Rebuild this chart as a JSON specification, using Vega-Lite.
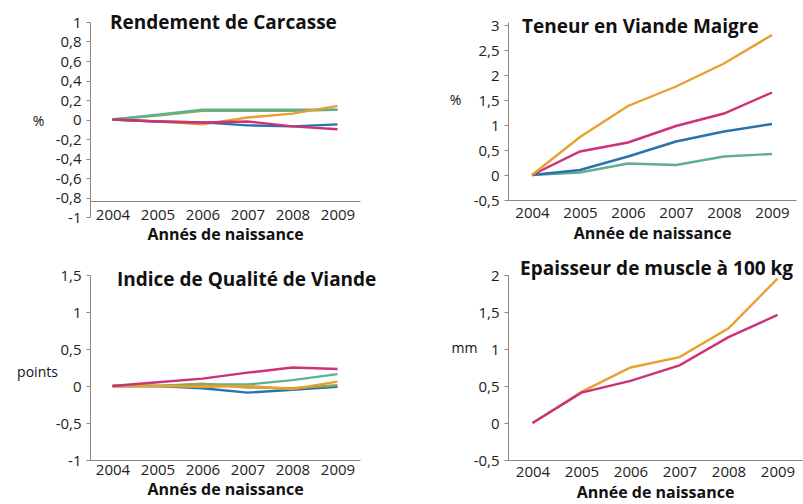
{
  "$schema": "https://vega.github.io/schema/vega-lite/v6.json",
  "autosize": {"type": "none"},
  "padding": {"left": 90, "top": 22, "right": 713, "bottom": 482},
  "background": "white",
  "bounds": "flush",
  "columns": 2,
  "spacing": {"row": 58, "column": 148},
  "config": {
    "locale": {"number": {"decimal": ",", "thousands": " ", "grouping": [3], "currency": ["", " €"], "minus": "-"}},
    "view": {"stroke": null},
    "font": "Open Sans",
    "axis": {"grid": false, "domainColor": "#888", "tickColor": "#888", "labelColor": "#222", "labelFont": "Open Sans", "labelFontSize": 15, "titleFont": "Open Sans", "titleColor": "#111", "tickSize": 4},
    "title": {"font": "Open Sans", "fontSize": 19, "fontWeight": "bold", "color": "#111"},
    "line": {"strokeWidth": 2.4}
  },
  "datasets": {
    "carcasse": [
      {"series": "green", "year": 2004, "value": 0}, {"series": "green", "year": 2005, "value": 0.04}, {"series": "green", "year": 2006, "value": 0.09}, {"series": "green", "year": 2007, "value": 0.09}, {"series": "green", "year": 2008, "value": 0.09}, {"series": "green", "year": 2009, "value": 0.1},
      {"series": "teal", "year": 2004, "value": 0}, {"series": "teal", "year": 2005, "value": 0.05}, {"series": "teal", "year": 2006, "value": 0.1}, {"series": "teal", "year": 2007, "value": 0.1}, {"series": "teal", "year": 2008, "value": 0.1}, {"series": "teal", "year": 2009, "value": 0.1},
      {"series": "orange", "year": 2004, "value": 0}, {"series": "orange", "year": 2005, "value": -0.02}, {"series": "orange", "year": 2006, "value": -0.05}, {"series": "orange", "year": 2007, "value": 0.02}, {"series": "orange", "year": 2008, "value": 0.06}, {"series": "orange", "year": 2009, "value": 0.14},
      {"series": "blue", "year": 2004, "value": 0}, {"series": "blue", "year": 2005, "value": -0.02}, {"series": "blue", "year": 2006, "value": -0.03}, {"series": "blue", "year": 2007, "value": -0.06}, {"series": "blue", "year": 2008, "value": -0.07}, {"series": "blue", "year": 2009, "value": -0.05},
      {"series": "magenta", "year": 2004, "value": 0}, {"series": "magenta", "year": 2005, "value": -0.02}, {"series": "magenta", "year": 2006, "value": -0.03}, {"series": "magenta", "year": 2007, "value": -0.02}, {"series": "magenta", "year": 2008, "value": -0.07}, {"series": "magenta", "year": 2009, "value": -0.1}
    ],
    "qualite": [
      {"series": "teal", "year": 2004, "value": 0}, {"series": "teal", "year": 2005, "value": 0}, {"series": "teal", "year": 2006, "value": 0.02}, {"series": "teal", "year": 2007, "value": 0.02}, {"series": "teal", "year": 2008, "value": 0.08}, {"series": "teal", "year": 2009, "value": 0.16},
      {"series": "blue", "year": 2004, "value": 0}, {"series": "blue", "year": 2005, "value": 0}, {"series": "blue", "year": 2006, "value": -0.03}, {"series": "blue", "year": 2007, "value": -0.09}, {"series": "blue", "year": 2008, "value": -0.05}, {"series": "blue", "year": 2009, "value": -0.01},
      {"series": "green", "year": 2004, "value": 0}, {"series": "green", "year": 2005, "value": 0}, {"series": "green", "year": 2006, "value": 0.03}, {"series": "green", "year": 2007, "value": -0.02}, {"series": "green", "year": 2008, "value": -0.03}, {"series": "green", "year": 2009, "value": 0.01},
      {"series": "orange", "year": 2004, "value": 0}, {"series": "orange", "year": 2005, "value": 0}, {"series": "orange", "year": 2006, "value": -0.01}, {"series": "orange", "year": 2007, "value": 0}, {"series": "orange", "year": 2008, "value": -0.04}, {"series": "orange", "year": 2009, "value": 0.06},
      {"series": "magenta", "year": 2004, "value": 0}, {"series": "magenta", "year": 2005, "value": 0.05}, {"series": "magenta", "year": 2006, "value": 0.1}, {"series": "magenta", "year": 2007, "value": 0.18}, {"series": "magenta", "year": 2008, "value": 0.25}, {"series": "magenta", "year": 2009, "value": 0.23}
    ],
    "maigre": [
      {"series": "teal", "year": 2004, "value": 0}, {"series": "teal", "year": 2005, "value": 0.05}, {"series": "teal", "year": 2006, "value": 0.23}, {"series": "teal", "year": 2007, "value": 0.2}, {"series": "teal", "year": 2008, "value": 0.37}, {"series": "teal", "year": 2009, "value": 0.42},
      {"series": "blue", "year": 2004, "value": 0}, {"series": "blue", "year": 2005, "value": 0.1}, {"series": "blue", "year": 2006, "value": 0.37}, {"series": "blue", "year": 2007, "value": 0.67}, {"series": "blue", "year": 2008, "value": 0.87}, {"series": "blue", "year": 2009, "value": 1.02},
      {"series": "magenta", "year": 2004, "value": 0}, {"series": "magenta", "year": 2005, "value": 0.47}, {"series": "magenta", "year": 2006, "value": 0.65}, {"series": "magenta", "year": 2007, "value": 0.98}, {"series": "magenta", "year": 2008, "value": 1.23}, {"series": "magenta", "year": 2009, "value": 1.65},
      {"series": "orange", "year": 2004, "value": 0}, {"series": "orange", "year": 2005, "value": 0.76}, {"series": "orange", "year": 2006, "value": 1.38}, {"series": "orange", "year": 2007, "value": 1.77}, {"series": "orange", "year": 2008, "value": 2.23}, {"series": "orange", "year": 2009, "value": 2.8}
    ],
    "muscle": [
      {"series": "orange", "year": 2004, "value": 0}, {"series": "orange", "year": 2005, "value": 0.42}, {"series": "orange", "year": 2006, "value": 0.75}, {"series": "orange", "year": 2007, "value": 0.89}, {"series": "orange", "year": 2008, "value": 1.28}, {"series": "orange", "year": 2009, "value": 1.95},
      {"series": "magenta", "year": 2004, "value": 0}, {"series": "magenta", "year": 2005, "value": 0.41}, {"series": "magenta", "year": 2006, "value": 0.57}, {"series": "magenta", "year": 2007, "value": 0.78}, {"series": "magenta", "year": 2008, "value": 1.16}, {"series": "magenta", "year": 2009, "value": 1.46}
    ]
  },
  "concat": [
    {
      "data": {"name": "carcasse"},
      "width": 270, "height": 195,
      "title": {"text": "Rendement de Carcasse", "anchor": "start", "frame": "group", "dx": 20, "offset": -33, "baseline": "alphabetic"},
      "mark": {"type": "line"},
      "encoding": {
        "x": {"field": "year", "type": "quantitative", "scale": {"domain": [2003.5, 2009.5], "nice": false, "zero": false},
          "axis": {"values": [2004, 2005, 2006, 2007, 2008, 2009], "format": "d", "title": "Annés de naissance", "offset": -16, "ticks": false, "labelPadding": 6, "titlePadding": 4, "titleFontSize": 16, "titleFontWeight": "bold"}},
        "y": {"field": "value", "type": "quantitative", "scale": {"domain": [-1, 1], "nice": false},
          "axis": {"values": [-1, -0.8, -0.6, -0.4, -0.2, 0, 0.2, 0.4, 0.6, 0.8, 1], "format": "~g", "title": "%", "titleAngle": 0, "titleX": -52, "titleY": 99, "titleAlign": "center", "titleBaseline": "middle", "titleFontWeight": "normal", "titleFontSize": 14, "labelPadding": 5}},
        "color": {"field": "series", "type": "nominal", "legend": null,
          "scale": {"domain": ["orange", "magenta", "blue", "teal", "green"], "range": ["#E8A030", "#CC3277", "#2C72A8", "#5FAF95", "#8FA84A"]}}
      }
    },
    {
      "data": {"name": "maigre"},
      "width": 288, "height": 178,
      "title": {"text": "Teneur en Viande Maigre", "anchor": "start", "frame": "group", "dx": 14, "offset": -34, "baseline": "alphabetic"},
      "mark": {"type": "line"},
      "encoding": {
        "x": {"field": "year", "type": "quantitative", "scale": {"domain": [2003.5, 2009.5], "nice": false, "zero": false},
          "axis": {"values": [2004, 2005, 2006, 2007, 2008, 2009], "format": "d", "title": "Année de naissance", "ticks": false, "labelPadding": 5, "titlePadding": 5, "titleFontSize": 16, "titleFontWeight": "bold"}},
        "y": {"field": "value", "type": "quantitative", "scale": {"domain": [-0.5, 3.06], "nice": false},
          "axis": {"values": [-0.5, 0, 0.5, 1, 1.5, 2, 2.5, 3], "format": "~g", "title": "%", "titleAngle": 0, "titleX": -53, "titleY": 78, "titleAlign": "center", "titleBaseline": "middle", "titleFontWeight": "normal", "titleFontSize": 14, "labelPadding": 5}},
        "color": {"field": "series", "type": "nominal", "legend": null,
          "scale": {"domain": ["orange", "magenta", "blue", "teal", "green"], "range": ["#E8A030", "#CC3277", "#2C72A8", "#5FAF95", "#8FA84A"]}}
      }
    },
    {
      "data": {"name": "qualite"},
      "width": 270, "height": 185,
      "title": {"text": "Indice de Qualité de Viande", "anchor": "start", "frame": "group", "dx": 27, "offset": -37, "baseline": "alphabetic"},
      "mark": {"type": "line"},
      "encoding": {
        "x": {"field": "year", "type": "quantitative", "scale": {"domain": [2003.5, 2009.5], "nice": false, "zero": false},
          "axis": {"values": [2004, 2005, 2006, 2007, 2008, 2009], "format": "d", "title": "Annés de naissance", "ticks": false, "labelPadding": 2, "titlePadding": 4, "titleFontSize": 16, "titleFontWeight": "bold"}},
        "y": {"field": "value", "type": "quantitative", "scale": {"domain": [-1, 1.5], "nice": false},
          "axis": {"values": [-1, -0.5, 0, 0.5, 1, 1.5], "format": "~g", "title": "points", "titleAngle": 0, "titleX": -53, "titleY": 97, "titleAlign": "center", "titleBaseline": "middle", "titleFontWeight": "normal", "titleFontSize": 14, "labelPadding": 5}},
        "color": {"field": "series", "type": "nominal", "legend": null,
          "scale": {"domain": ["orange", "magenta", "blue", "teal", "green"], "range": ["#E8A030", "#CC3277", "#2C72A8", "#5FAF95", "#8FA84A"]}}
      }
    },
    {
      "data": {"name": "muscle"},
      "width": 294, "height": 185,
      "title": {"text": "Epaisseur de muscle à 100 kg", "anchor": "start", "frame": "group", "dx": 12, "offset": -26, "baseline": "alphabetic"},
      "mark": {"type": "line"},
      "encoding": {
        "x": {"field": "year", "type": "quantitative", "scale": {"domain": [2003.5, 2009.5], "nice": false, "zero": false},
          "axis": {"values": [2004, 2005, 2006, 2007, 2008, 2009], "format": "d", "title": "Année de naissance", "ticks": false, "labelPadding": 4, "titlePadding": 5, "titleFontSize": 16, "titleFontWeight": "bold"}},
        "y": {"field": "value", "type": "quantitative", "scale": {"domain": [-0.5, 2], "nice": false},
          "axis": {"values": [-0.5, 0, 0.5, 1, 1.5, 2], "format": "~g", "title": "mm", "titleAngle": 0, "titleX": -44, "titleY": 73, "titleAlign": "center", "titleBaseline": "middle", "titleFontWeight": "normal", "titleFontSize": 14, "labelPadding": 5}},
        "color": {"field": "series", "type": "nominal", "legend": null,
          "scale": {"domain": ["orange", "magenta", "blue", "teal", "green"], "range": ["#E8A030", "#CC3277", "#2C72A8", "#5FAF95", "#8FA84A"]}}
      }
    }
  ]
}
